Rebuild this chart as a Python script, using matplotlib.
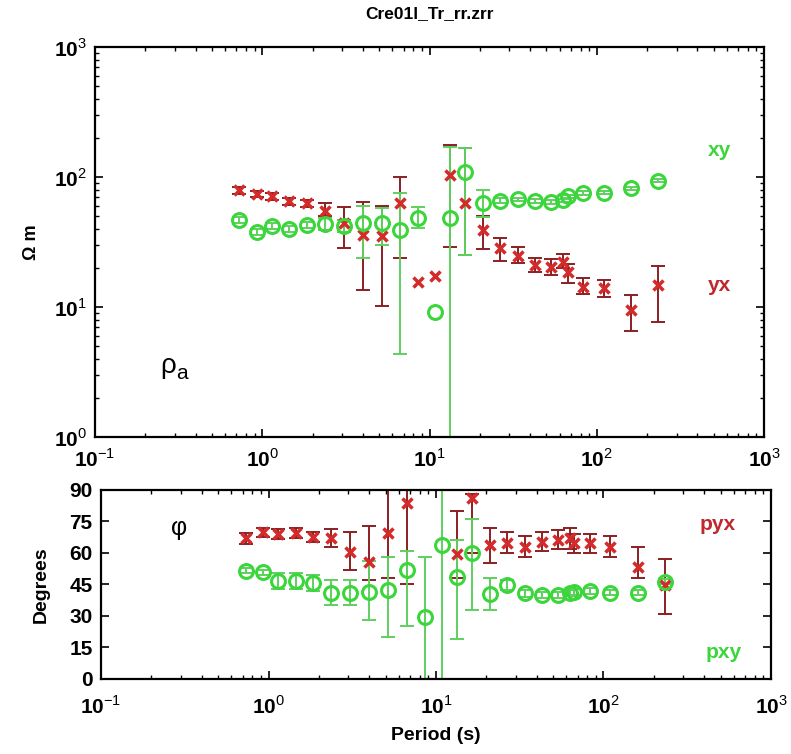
import numpy as np
import matplotlib
matplotlib.use("Agg")
import matplotlib.pyplot as plt
from matplotlib.ticker import FuncFormatter, LogLocator, FixedLocator

plt.rcParams['font.family'] = ['Liberation Sans', 'DejaVu Sans']
plt.rcParams['mathtext.fontset'] = 'custom'
plt.rcParams['mathtext.rm'] = 'Liberation Sans'
plt.rcParams['mathtext.bf'] = 'Liberation Sans:bold'

# periods (s)
period = [0.73, 0.93, 1.14, 1.45, 1.85, 2.37, 3.08, 4.0, 5.2, 6.67, 8.54, 10.8,
          13.3, 16.3, 20.9, 26.4, 33.8, 42.7, 53.3, 63.0, 67.0, 82.8, 110, 160, 232]

# apparent resistivity yx (ohm m) and error limits
rho_yx = [79, 74, 71, 65, 63, 55, 44.5, 36, 35, 63, 15.7, 17.4,
          103, 63, 39, 28.3, 24.7, 21, 20.4, 22.3, 18.7, 14.3, 14.1, 9.5, 14.8]
rho_yx_lo = [74, 70, 67, 61, 59, 50, 28.7, 13.5, 10.2, 23.8, None, None,
             29, 25, 28, 22.7, 21.8, 18.7, 17.6, 19.8, 15.3, 12.6, 12.0, 6.5, 7.7]
rho_yx_hi = [84, 78, 75, 69, 67, 63, 59, 64.6, 60, 100, None, None,
             176, 167, 50, 33.7, 29, 23.7, 23.3, 25.5, 21.5, 16.6, 16.1, 12.4, 20.7]

# apparent resistivity xy
rho_xy = [46.7, 37.8, 42, 39.8, 42.7, 43.5, 42, 44.3, 44.3, 39.1, 48.4, 9.1,
          48.4, 110, 62.7, 65.7, 67.3, 65.7, 64.6, 66, 71, 74.9, 75.8, 81.8, 93.8]
rho_xy_lo = [44, 36, 40, 38, 40.5, 39, 38, 24, 30, 4.35, 40.5, None,
             0.5, 25, 49.5, 63, 65, 63.5, 62.5, 64, 69, 72.5, 73.5, 79.5, 91]
rho_xy_hi = [49, 40, 44, 42, 45, 48, 47, 60, 58, 75, 59, None,
             170, 167, 79, 68.5, 69.5, 68, 67, 68, 73, 77.5, 78, 84, 96.5]

# phase yx (degrees)
ph_yx = [67, 69.8, 68.9, 69.4, 67.5, 67.3, 60.6, 55.9, 69.4, 83.7, None, None,
         59.6, 86, 63.6, 64.6, 62.7, 65.4, 66, 67, 64.6, 64.6, 63, 53.2, 44.8]
ph_yx_lo = [64.5, 67.5, 66.5, 67, 65, 63, 52, 47, 48, 45, None, None,
            48, 60, 55, 60, 58, 61, 62, 62, 60, 60, 58, 48, 31]
ph_yx_hi = [69.5, 72, 71.5, 72, 70, 71.5, 70, 73, 95, 100, None, None,
            80, 88, 72, 70, 68, 70, 71, 72, 69, 69, 68, 63, 57]

# phase xy
ph_xy = [51.6, 50.8, 46.8, 46.8, 45.6, 41.1, 41.1, 41.6, 42.4, 51.9, 29.7, 63.8,
         48.4, 60, 40.5, 44.8, 40.8, 40, 40, 41, 41.5, 41.9, 41.1, 41.1, 46.3]
ph_xy_lo = [50.5, 49.5, 43, 43, 42, 35, 35, 28, 20, 25, -5, -5,
            19, 33, 33, 42.5, 39, 38.5, 38.5, 39.5, 40, 40.5, 40, 40, 45]
ph_xy_hi = [52.8, 52, 50.5, 50.5, 49.5, 47, 47, 56, 58, 61, 58, 95,
            66, 76, 48, 47, 42.5, 41.5, 41.5, 42.5, 43, 43.5, 42.5, 42.5, 47.5]

red = '#d42a2a'
red_err = '#8a1f24'
green = '#3ad63a'
green_err = '#5fcf5f'


def err_arrays(vals, lo, hi):
    x, y, e1, e2 = [], [], [], []
    for p, v, a, b in zip(period, vals, lo, hi):
        if v is None or a is None:
            continue
        x.append(p)
        y.append(v)
        e1.append(v - a)
        e2.append(b - v)
    return x, y, [e1, e2]


def pts(vals):
    x = [p for p, v in zip(period, vals) if v is not None]
    y = [v for v in vals if v is not None]
    return x, y


def log_fmt(v, pos):
    return r'$\mathbf{10}^{%d}$' % int(round(np.log10(v)))


def style_log_x(ax, pad=8):
    ax.set_xscale('log')
    ax.set_xlim(0.1, 1000)
    ax.xaxis.set_major_locator(LogLocator(base=10, numticks=10))
    ax.xaxis.set_minor_locator(LogLocator(base=10, subs=np.arange(2, 10), numticks=10))
    ax.xaxis.set_major_formatter(FuncFormatter(log_fmt))
    ax.tick_params(axis='both', which='both', direction='in', top=True, right=True)
    ax.tick_params(which='major', length=6, width=1.2, labelsize=15)
    ax.tick_params(axis='x', which='major', pad=pad)
    ax.tick_params(which='minor', length=3, width=1)
    for s in ax.spines.values():
        s.set_linewidth(1.6)


fig = plt.figure(figsize=(7.91, 7.54), dpi=100)

# ---- apparent resistivity ----
ax1 = fig.add_axes([0.1201, 0.4204, 0.8458, 0.5172])
x, y, e = err_arrays(rho_yx, rho_yx_lo, rho_yx_hi)
ax1.errorbar(x, y, yerr=e, fmt='none', ecolor=red_err, elinewidth=1.4, capsize=5, capthick=1.4)
x, y, e = err_arrays(rho_xy, rho_xy_lo, rho_xy_hi)
ax1.errorbar(x, y, yerr=e, fmt='none', ecolor=green_err, elinewidth=1.4, capsize=5, capthick=1.4)
x, y = pts(rho_yx)
ax1.plot(x, y, 'x', color=red, ms=7, mew=2.5)
x, y = pts(rho_xy)
ax1.plot(x, y, 'o', mfc='none', mec=green, ms=10, mew=2.2)
ax1.set_yscale('log')
ax1.set_ylim(1, 1000)
style_log_x(ax1)
ax1.yaxis.set_major_formatter(FuncFormatter(log_fmt))
ax1.tick_params(axis='y', pad=6)
ax1.set_ylabel('Ω m', fontsize=13, fontweight='bold', labelpad=10)
ax1.set_title('Cre01l_Tr_rr.zrr', fontsize=12.5, fontweight='bold', pad=21)
ax1.text(0.098, 0.165, 'ρ', transform=ax1.transAxes, fontsize=20)
ax1.text(0.122, 0.148, 'a', transform=ax1.transAxes, fontsize=15)
ax1.text(0.916, 0.72, 'xy', transform=ax1.transAxes, color=green, fontsize=15,
         fontweight='bold', ha='left')
ax1.text(0.916, 0.375, 'yx', transform=ax1.transAxes, color='#c0282d', fontsize=15,
         fontweight='bold', ha='left')

# ---- phase ----
ax2 = fig.add_axes([0.1277, 0.0995, 0.847, 0.2507])
x, y, e = err_arrays(ph_yx, ph_yx_lo, ph_yx_hi)
ax2.errorbar(x, y, yerr=e, fmt='none', ecolor=red_err, elinewidth=1.4, capsize=5, capthick=1.4)
x, y, e = err_arrays(ph_xy, ph_xy_lo, ph_xy_hi)
ax2.errorbar(x, y, yerr=e, fmt='none', ecolor=green_err, elinewidth=1.4, capsize=5, capthick=1.4)
x, y = pts(ph_yx)
ax2.plot(x, y, 'x', color=red, ms=7, mew=2.5)
x, y = pts(ph_xy)
ax2.plot(x, y, 'o', mfc='none', mec=green, ms=10, mew=2.2)
ax2.set_ylim(0, 90)
ax2.yaxis.set_major_locator(FixedLocator([0, 15, 30, 45, 60, 75, 90]))
style_log_x(ax2, pad=12)
for lab in ax2.get_yticklabels():
    lab.set_fontweight('bold')
ax2.tick_params(axis='y', labelsize=15, pad=6)
ax2.set_ylabel('Degrees', fontsize=14, fontweight='bold', labelpad=14)
ax2.set_xlabel('Period (s)', fontsize=14, fontweight='bold', labelpad=6)
ax2.text(0.105, 0.76, 'φ', transform=ax2.transAxes, fontsize=18)
ax2.text(0.894, 0.79, 'pyx', transform=ax2.transAxes, color='#c0282d', fontsize=15,
         fontweight='bold', ha='left')
ax2.text(0.903, 0.11, 'pxy', transform=ax2.transAxes, color=green, fontsize=15,
         fontweight='bold', ha='left')

fig.savefig('out.png', dpi=100)
